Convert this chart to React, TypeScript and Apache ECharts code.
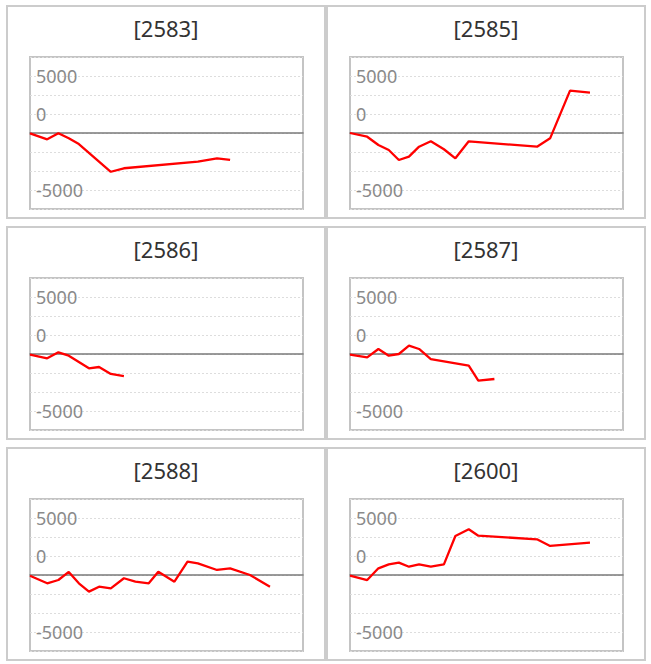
import React, { useEffect, useRef } from "react";
import * as echarts from "echarts";

// shared x positions (time positions along the axis, 0..100)
const xs = [0, 6.3, 10.4, 14.2, 17.9, 21.6, 25.3, 29.6, 34.4, 38.6, 43.5, 47.0, 52.9, 57.7, 61.5, 68.5, 73.3, 80.6, 87.9];

const titles = ["[2583]", "[2585]", "[2586]", "[2587]", "[2588]", "[2600]"];

const s2583 = [-50, -830, -40, -700, -1450, null, null, -5100, -4640, null, null, null, null, null, -3780, -3330, -3550, null, null];
const s2585 = [0, -490, -1580, -2240, -3555, -3110, -1800, -1090, -2140, -3330, -1090, null, null, null, null, -1800, -700, 5570, 5300];
const s2586 = [-90, -570, 220, -220, null, -1880, -1710, -2630, -2900, null, null, null, null, null, null, null, null, null, null];
const s2587 = [-90, -440, 660, -220, 0, 1090, 660, -660, null, null, -1540, -3510, -3290, null, null, null, null, null, null];
const s2588 = [-100, -1090, -660, 400, -1090, -2190, -1540, -1750, -430, -880, -1090, 440, -880, 1750, 1530, 660, 880, 0, -1540];
const s2600 = [-90, -660, 880, 1400, 1620, 1090, 1400, 1090, 1400, 5130, 6010, 5170, null, null, null, 4700, 3820, null, 4250];

const seriesValues = [s2583, s2585, s2586, s2587, s2588, s2600];

// y tick labels shown at specific gridlines
const yTickValues = [7500, 2500, -7500];
const yTickLabels = ["5000", "0", "-5000"];

const FONT = "Noto Sans";

export default function App() {
  const ref = useRef<HTMLDivElement>(null);
  useEffect(() => {
    document.body.style.margin = "0";
    if (!ref.current) return;
    const chart = echarts.init(ref.current, null, { renderer: "svg" });

    const colLeft = [7, 327];
    const rowTop = [6, 227, 448];
    const panelW = 318;
    const panelH = 212;

    const grids: any[] = [];
    const xAxes: any[] = [];
    const yAxes: any[] = [];
    const series: any[] = [];
    const graphics: any[] = [];

    for (let i = 0; i < 6; i++) {
      const c = i % 2;
      const r = Math.floor(i / 2);
      const px = colLeft[c];
      const py = rowTop[r];
      graphics.push({
        type: "rect",
        shape: { x: px, y: py, width: panelW, height: panelH },
        style: { fill: "#fff", stroke: "#cccccc", lineWidth: 2 },
        z: -10,
      });
      graphics.push({
        type: "text",
        x: px + panelW / 2,
        y: py + 22,
        style: {
          text: titles[i],
          fontSize: 22,
          fontFamily: FONT,
          fill: "#333333",
          align: "center",
          verticalAlign: "middle",
        },
      });
      grids.push({
        left: px + 23,
        top: py + 51,
        width: 273,
        height: 152,
        show: true,
        borderColor: "#c4c4c4",
        borderWidth: 2,
        backgroundColor: "transparent",
      });
      xAxes.push({
        type: "value",
        gridIndex: i,
        min: 0,
        max: 100,
        axisLine: { show: true, onZero: true, lineStyle: { color: "#7a7a7a", width: 1.5 } },
        axisTick: { show: false },
        axisLabel: { show: false },
        splitLine: { show: false },
      });
      yAxes.push({
        type: "value",
        gridIndex: i,
        min: -10000,
        max: 10000,
        interval: 2500,
        axisLine: { show: false },
        axisTick: { show: false },
        axisLabel: {
          inside: true,
          margin: 6,
          fontSize: 18,
          fontFamily: FONT,
          color: "#8a8a8a",
          formatter: (v: number) => {
            const k = yTickValues.indexOf(v);
            return k >= 0 ? yTickLabels[k] : "";
          },
        },
        splitLine: { show: true, lineStyle: { color: "#dddddd", type: [2, 2], width: 1 } },
      });
      const vals = seriesValues[i];
      series.push({
        type: "line",
        xAxisIndex: i,
        yAxisIndex: i,
        data: xs.map((x, j) => [x, vals[j]]).filter((p) => p[1] !== null),
        showSymbol: false,
        symbol: "none",
        connectNulls: true,
        lineStyle: { color: "#ff0000", width: 2.3 },
        itemStyle: { color: "#ff0000" },
        z: 5,
      });
    }

    chart.setOption({
      animation: false,
      backgroundColor: "#ffffff",
      grid: grids,
      xAxis: xAxes,
      yAxis: yAxes,
      series,
      graphic: graphics,
    });
    return () => chart.dispose();
  }, []);
  return <div ref={ref} style={{ width: 651, height: 664 }} />;
}
